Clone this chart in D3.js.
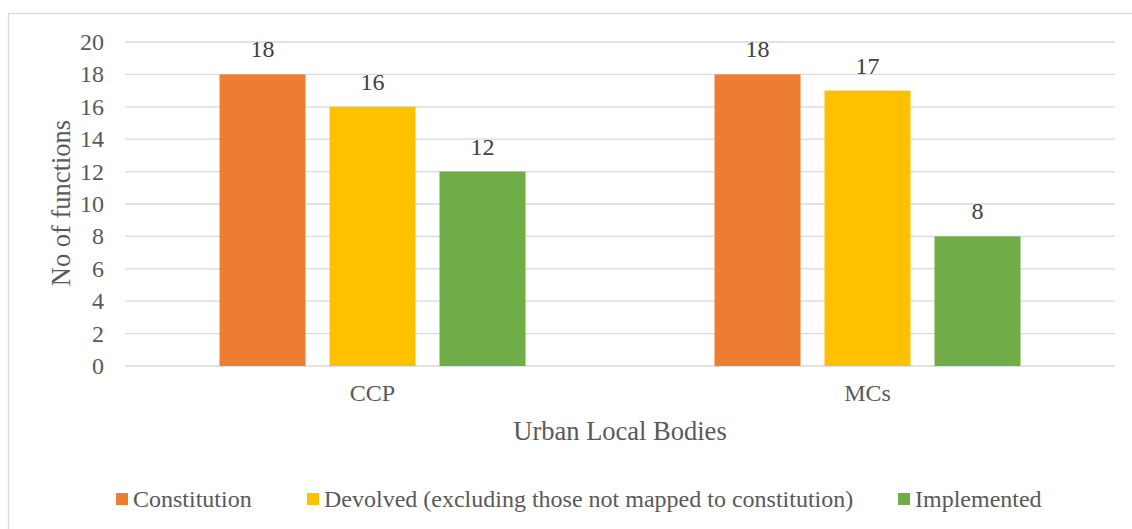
<!DOCTYPE html>
<meta charset="utf-8">
<style>
body { margin: 0; background: #fff; }
svg { display: block; }
svg text { font-family: "Liberation Serif", "DejaVu Serif", serif; }
.grid line { stroke: #d9d9d9; stroke-width: 1.3; }
.tick-label { fill: #595959; font-size: 24px; }
.value-label { fill: #404040; font-size: 24px; text-anchor: middle; }
.axis-title { fill: #595959; font-size: 26.5px; text-anchor: middle; }
.legend text { fill: #595959; font-size: 24px; }
</style>
<svg id="chart" width="1132" height="529"></svg>
<script src="https://cdn.jsdelivr.net/npm/d3@7"></script>
<script>
var categories = ["CCP", "MCs"];
var seriesNames = ["Constitution", "Devolved (excluding those not mapped to constitution)", "Implemented"];
var constitution = [18, 18];
var devolved = [16, 17];
var implemented = [12, 8];
var yTicks = [0, 2, 4, 6, 8, 10, 12, 14, 16, 18, 20];
var colors = ["#ed7d31", "#ffc000", "#70ad47"];

var seriesValues = [constitution, devolved, implemented];

var svg = d3.select("#chart");

// outer chart border, runs off the right and bottom edge like the source
svg.append("rect")
  .attr("x", 8.5).attr("y", 13.5)
  .attr("width", 1140).attr("height", 540)
  .attr("fill", "none")
  .attr("stroke", "#d9d9d9")
  .attr("stroke-width", 1.3);

var plotLeft = 125, plotRight = 1115, plotTop = 42, plotBottom = 366;

var y = d3.scaleLinear().domain([0, 20]).range([plotBottom, plotTop]);
var x0 = d3.scaleBand().domain(categories).range([plotLeft, plotRight]);
var x1 = d3.scaleBand().domain(seriesNames)
  .range([94.5, x0.bandwidth() - 94.5])
  .paddingInner(24 / 110);

// gridlines
svg.append("g").attr("class", "grid")
  .selectAll("line").data(yTicks).enter().append("line")
  .attr("x1", plotLeft).attr("x2", plotRight)
  .attr("y1", function(d) { return y(d); })
  .attr("y2", function(d) { return y(d); });

// y tick labels
svg.append("g").selectAll("text").data(yTicks).enter().append("text")
  .attr("class", "tick-label")
  .attr("x", 104)
  .attr("y", function(d) { return y(d); })
  .attr("dy", "0.33em")
  .attr("text-anchor", "end")
  .text(function(d) { return d; });

// bars, grouped by category
var groups = svg.selectAll("g.cat").data(categories).enter().append("g")
  .attr("class", "cat")
  .attr("transform", function(d) { return "translate(" + x0(d) + ",0)"; });

groups.each(function(cat, ci) {
  var g = d3.select(this);
  seriesNames.forEach(function(s, si) {
    var v = seriesValues[si][ci];
    g.append("rect")
      .attr("x", x1(s))
      .attr("width", x1.bandwidth())
      .attr("y", y(v))
      .attr("height", y(0) - y(v))
      .attr("fill", colors[si]);
    g.append("text")
      .attr("class", "value-label")
      .attr("x", x1(s) + x1.bandwidth() / 2)
      .attr("y", y(v) - 17)
      .text(v);
  });
});

// category labels
svg.append("g").selectAll("text").data(categories).enter().append("text")
  .attr("class", "tick-label")
  .attr("text-anchor", "middle")
  .attr("x", function(d) { return x0(d) + x0.bandwidth() / 2; })
  .attr("y", 401)
  .text(function(d) { return d; });

// axis titles
svg.append("text").attr("class", "axis-title")
  .attr("transform", "translate(70,203) rotate(-90)")
  .text("No of functions");

svg.append("text").attr("class", "axis-title")
  .attr("x", 620).attr("y", 440)
  .text("Urban Local Bodies");

// legend
var legendX = [116, 307, 898];
var legend = svg.append("g").attr("class", "legend")
  .selectAll("g").data(seriesNames).enter().append("g")
  .attr("transform", function(d, i) { return "translate(" + legendX[i] + ",0)"; });

legend.append("rect")
  .attr("x", 0).attr("y", 493)
  .attr("width", 12).attr("height", 12)
  .attr("fill", function(d, i) { return colors[i]; });

legend.append("text")
  .attr("x", 17).attr("y", 507)
  .text(function(d) { return d; });
</script>
